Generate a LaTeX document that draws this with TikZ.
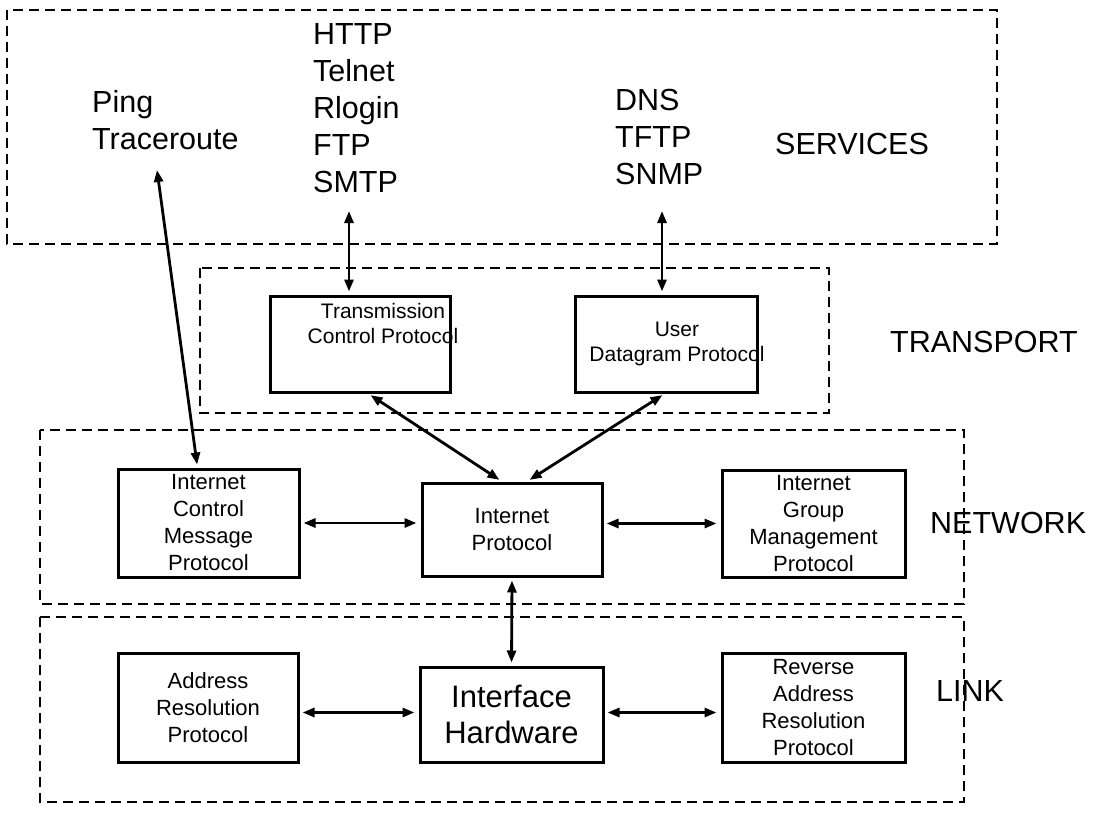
\documentclass[tikz,border=0pt]{standalone}
\usepackage{fontspec}
\setmainfont{Liberation Sans}
\usetikzlibrary{arrows.meta}
\begin{document}
\begin{tikzpicture}[x=1pt,y=-1pt,
  layer/.style={draw, line width=2.8pt, dash pattern=on 10pt off 6pt},
  proto/.style={draw, line width=3pt, inner sep=0pt, align=center, font=\fontsize{22}{27}\selectfont},
  bigtext/.style={inner sep=0pt, align=left, anchor=base west, font=\fontsize{30.5}{37}\selectfont},
  smalltext/.style={inner sep=0pt, align=center, font=\fontsize{21}{25}\selectfont},
  conn/.style={line width=2.8pt, {Triangle[length=12pt,width=9pt]}-{Triangle[length=12pt,width=9pt]}},
]
\useasboundingbox (0,0) rectangle (1101,816);

% layers
\draw[layer] (7,10) rectangle (997,244);
\draw[layer] (200,268) rectangle (829,413);
\draw[layer] (40,430) rectangle (964,604);
\draw[layer] (40,617) rectangle (964,802);

% services texts (base = baseline of last line)
\node[bigtext] (ping) at (92,149) {Ping\\Traceroute};
\node[bigtext] (tcpapps) at (313,192) {HTTP\\Telnet\\Rlogin\\FTP\\SMTP};
\node[bigtext] (udpapps) at (615,184) {DNS\\TFTP\\SNMP};

% layer labels
\node[bigtext] (lservices) at (775,154) {SERVICES};
\node[bigtext] (ltransport) at (890,352) {TRANSPORT};
\node[bigtext] (lnetwork) at (930,533) {NETWORK};
\node[bigtext] (llink) at (936,701) {LINK};

% transport boxes
\node[proto, minimum width=180pt, minimum height=96pt] (tcp) at (360,344) {};
\node[smalltext] (tcptext) at (383,323) {Transmission\\Control Protocol};
\node[proto, minimum width=182pt, minimum height=96pt] (udp) at (666,344) {};
\node[smalltext] (udptext) at (677,344) {User\\Datagram Protocol};

% network boxes
\node[proto, minimum width=181pt, minimum height=108pt] (icmp) at (208.5,523) {Internet\\Control\\Message\\Protocol};
\node[proto, minimum width=180pt, minimum height=93pt] (ip) at (512,529.5) {Internet\\Protocol};
\node[proto, minimum width=183pt, minimum height=107pt] (igmp) at (813.5,523.5) {Internet\\Group\\Management\\Protocol};

% link boxes
\node[proto, minimum width=180pt, minimum height=109pt] (arp) at (208,707.5) {Address\\Resolution\\Protocol};
\node[proto, minimum width=183pt, minimum height=95pt, font=\fontsize{31}{36}\selectfont] (ih) at (511.5,714.5) {Interface\\Hardware};
\node[proto, minimum width=183pt, minimum height=109pt] (rarp) at (813.5,707.5) {Reverse\\Address\\Resolution\\Protocol};

% connectors
\coordinate (p1) at (157,170);
\draw[conn, shorten >=3pt] (p1) -- ([xshift=-11pt]icmp.north);
\coordinate (s1) at (349,211);
\draw[conn, shorten >=3pt] (s1) -- (s1 |- tcp.north);
\coordinate (s2) at (662,211);
\draw[conn, shorten >=3pt] (s2) -- (s2 |- udp.north);
\draw[conn, shorten >=3pt, shorten <=3pt] ([xshift=8pt]tcp.south) -- ([xshift=-10pt]ip.north);
\draw[conn, shorten >=3pt, shorten <=3pt] ([xshift=-1pt]udp.south) -- ([xshift=15pt]ip.north);
\draw[conn, shorten >=4pt, shorten <=3pt] (icmp.east) -- (icmp.east -| ip.west);
\draw[conn, shorten >=4pt, shorten <=3pt] (ip.east |- igmp.west) -- (igmp.west);
\draw[conn, shorten >=3pt, shorten <=3pt] (ip.south) -- (ih.north);
\draw[conn, shorten >=4pt, shorten <=3pt] ([yshift=-5pt]arp.east) -- ([yshift=-5pt]arp.east -| ih.west);
\draw[conn, shorten >=4pt, shorten <=3pt] ([yshift=-5pt]rarp.west -| ih.east) -- ([yshift=-5pt]rarp.west);
\end{tikzpicture}
\end{document}
